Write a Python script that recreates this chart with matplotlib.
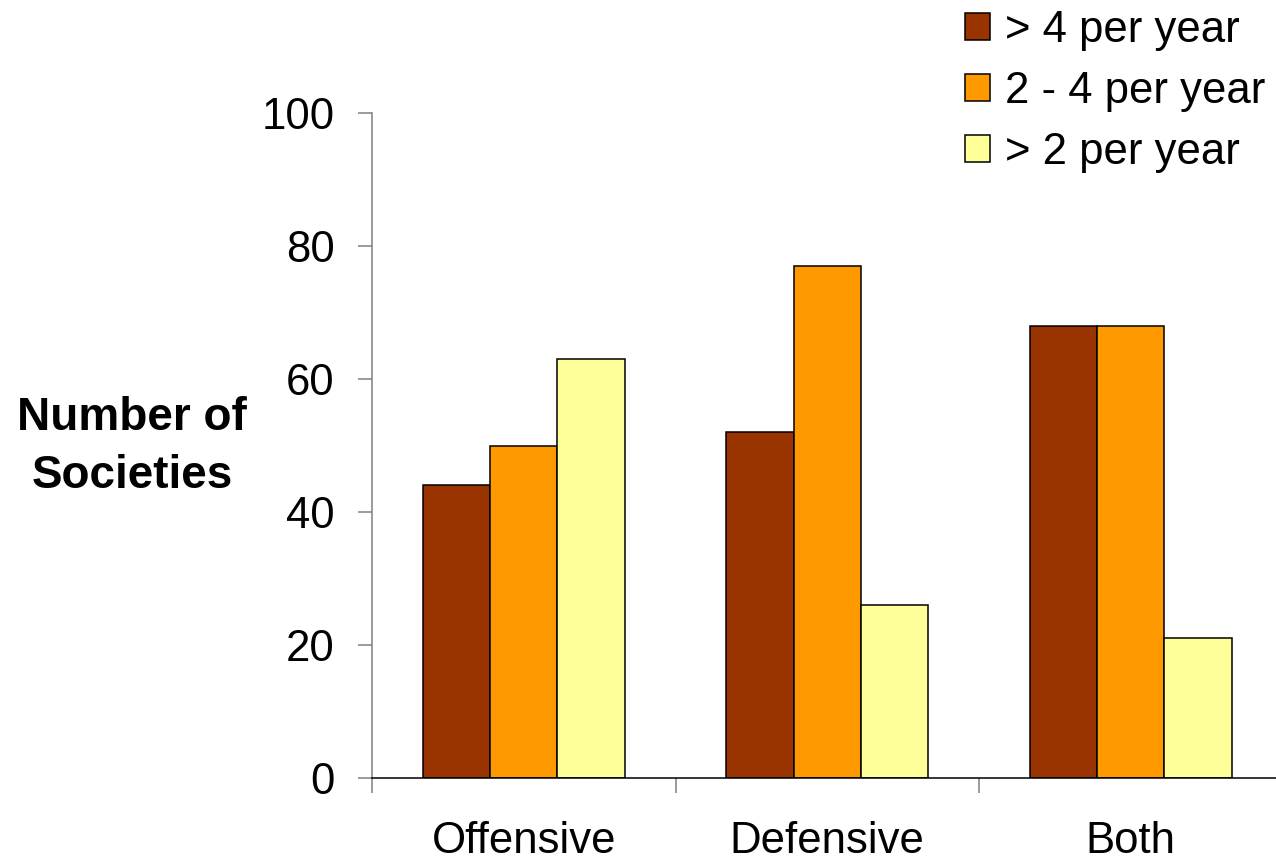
import numpy as np
import matplotlib.pyplot as plt
from matplotlib.patches import Patch

# Data
categories = ['Offensive', 'Defensive', 'Both']
more_than_4 = [44, 52, 68]
two_to_4 = [50, 77, 68]
less_than_2 = [63, 26, 21]
series_labels = ['> 4 per year', '2 - 4 per year', '> 2 per year']
colors = ['#993300', '#FF9900', '#FFFF99']
yticks = [0, 20, 40, 60, 80, 100]

plt.rcParams['font.family'] = ['Liberation Sans', 'DejaVu Sans']
fs = 31.5

fig = plt.figure(figsize=(12.76, 8.66), dpi=100)
ax = fig.add_axes([372 / 1276, 88 / 866, 910.5 / 1276, 665 / 866])

x = np.arange(len(categories))
w = 0.222
for i, vals in enumerate([more_than_4, two_to_4, less_than_2]):
    ax.bar(x + (i - 1) * w, vals, width=w, color=colors[i],
           edgecolor='black', linewidth=1.1, zorder=2)

ax.set_xlim(-0.5, 2.5)
ax.set_ylim(0, 100)

ax.set_yticks(yticks)
ax.set_yticklabels([str(t) for t in yticks])
ax.tick_params(axis='y', length=10, width=1.1, color='#808080',
               pad=17, labelsize=fs)

# Category labels centred, tick marks at group boundaries
ax.set_xticks(x)
ax.set_xticklabels(categories)
ax.tick_params(axis='x', which='major', length=0, pad=31, labelsize=fs)
ax.set_xticks([-0.5, 0.5, 1.5], minor=True)
ax.tick_params(axis='x', which='minor', length=11, width=1.1, color='#808080')

for s in ['top', 'right']:
    ax.spines[s].set_visible(False)
ax.spines['left'].set_color('#808080')
ax.spines['left'].set_linewidth(1.1)
ax.spines['bottom'].set_color('black')
ax.spines['bottom'].set_linewidth(1.1)

fig.text(132 / 1276, 1 - 447 / 866, 'Number of\nSocieties', fontsize=33,
         fontweight='bold', ha='center', va='center', linespacing=1.42)

handles = [Patch(facecolor=c, edgecolor='black', linewidth=1.1) for c in colors]
fig.legend(handles, series_labels, loc='upper left',
           bbox_to_anchor=(939 / 1276, 1 + 16 / 866), frameon=False, fontsize=fs,
           handlelength=0.57, handleheight=0.57, handletextpad=0.34,
           labelspacing=0.45, borderpad=0.1)

fig.savefig('out.png', dpi=100)
